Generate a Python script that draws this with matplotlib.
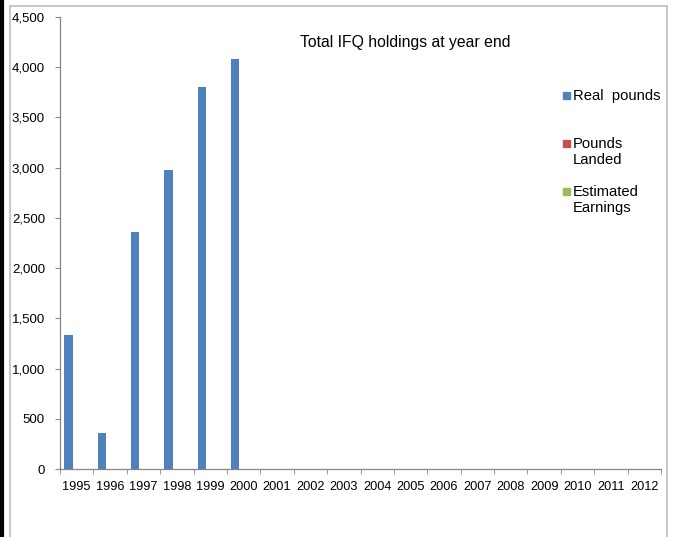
import numpy as np
import matplotlib
matplotlib.use("Agg")
import matplotlib.pyplot as plt
from matplotlib.lines import Line2D
from matplotlib.patches import Rectangle

# %% data
years = [str(y) for y in range(1995, 2013)]
real_pounds = [1330, 360, 2355, 2975, 3800, 4080] + [np.nan] * 12
pounds_landed = [np.nan] * 18
estimated_earnings = [np.nan] * 18
series_labels = ["Real  pounds", "Pounds\nLanded", "Estimated\nEarnings"]
series_colors = ["#4F81BD", "#C0504D", "#9BBB59"]
y_ticks = [0, 500, 1000, 1500, 2000, 2500, 3000, 3500, 4000, 4500]

plt.rcParams["font.family"] = ["Liberation Sans", "DejaVu Sans"]
AXIS_GREY = "#868686"

fig = plt.figure(figsize=(6.74, 5.37), dpi=100)
ax = fig.add_axes([60 / 674, 1 - 469 / 537, 601 / 674, 452 / 537])

# clustered bars, 3 series, gap width 100% -> bar width 1/4 of a category
x = np.arange(len(years))
w = 0.25
for k, (vals, col) in enumerate(zip([real_pounds, pounds_landed, estimated_earnings],
                                    series_colors)):
    ax.bar(x + (k - 1) * w, vals, width=w, color=col, edgecolor="none")

ax.set_xlim(-0.5, len(years) - 0.5)
ax.set_ylim(0, 4500)
ax.set_yticks(y_ticks)
ax.set_yticklabels([f"{v:,}" for v in y_ticks], fontsize=9.5)
ax.set_xticks(x)
ax.set_xticklabels(years, fontsize=9.2)
ax.tick_params(axis="x", length=0, pad=9)
ax.set_xticks(np.arange(len(years) + 1) - 0.5, minor=True)
ax.tick_params(axis="x", which="minor", length=3.6, color=AXIS_GREY, direction="out")
ax.tick_params(axis="y", length=3.6, color=AXIS_GREY, direction="out", pad=7.2)

for side in ["top", "right"]:
    ax.spines[side].set_visible(False)
for side in ["left", "bottom"]:
    ax.spines[side].set_color(AXIS_GREY)
    ax.spines[side].set_linewidth(0.9)

fig.text(405 / 674, 1 - 42 / 537, "Total IFQ holdings at year end",
         ha="center", va="center", fontsize=11.3)

# hand-placed legend like the Excel one
leg_y = [95, 143, 191]
for lab, col, yy in zip(series_labels, series_colors, leg_y):
    fig.patches.append(Rectangle((563 / 674, 1 - (yy + 4) / 537), 7 / 674, 7 / 537,
                                 transform=fig.transFigure, color=col))
    fig.text(573 / 674, 1 - (yy - 6) / 537, lab, ha="left", va="top",
             fontsize=10.6, linespacing=1.2)

# chart-area border and spreadsheet edge behind it
border = "#BFBFBF"
fig.add_artist(Line2D([10 / 674, 10 / 674], [0, 1 - 6 / 537], color=border, lw=1.2))
fig.add_artist(Line2D([10 / 674, 667 / 674], [1 - 6 / 537, 1 - 6 / 537], color=border, lw=1.2))
fig.add_artist(Line2D([667 / 674, 667 / 674], [0, 1 - 6 / 537], color=border, lw=1.2))
fig.add_artist(Line2D([2 / 674, 2 / 674], [0, 1], color="black", lw=3))

fig.savefig("out.png", dpi=100)
